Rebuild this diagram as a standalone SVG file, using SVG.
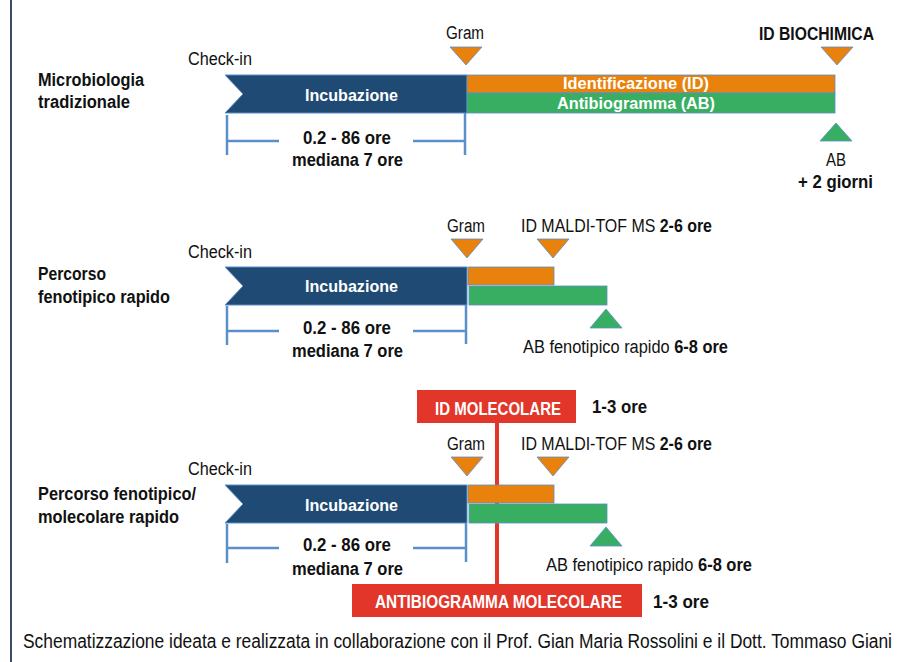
<svg xmlns="http://www.w3.org/2000/svg" width="902" height="662" viewBox="0 0 902 662">
<style>
text{font-family:"Liberation Sans Narrow","Liberation Sans",Arial,sans-serif;fill:#111}
.r{font-size:18px}
.b{font-size:17.5px;font-weight:bold}
tspan.bb{font-weight:bold}
.w{fill:#fff;font-weight:bold;font-size:17px}
.rw{fill:#fff;font-weight:bold;font-size:18.5px}
.inc{fill:#1F4A73;stroke:#5B8FC9;stroke-width:1}
.or{fill:#E8820C;stroke:#5B8FC9;stroke-width:0.8}
.gr{fill:#38AE62;stroke:#5B8FC9;stroke-width:0.8}
.red{fill:#E3362A}
.br{stroke:#5B8FC9;stroke-width:2.5;fill:none}
.cap{font-size:19.5px}
</style>
<rect width="902" height="662" fill="#fff"/>
<line x1="11" y1="0" x2="11" y2="662" stroke="#3D4B6B" stroke-width="2"/>

<g id="section1">
<text class="b" x="38" y="86" textLength="106" lengthAdjust="spacingAndGlyphs">Microbiologia</text>
<text class="b" x="38" y="108" textLength="92" lengthAdjust="spacingAndGlyphs">tradizionale</text>
<text class="r" x="188" y="65" textLength="64" lengthAdjust="spacingAndGlyphs">Check-in</text>
<g id="inc1"><polygon class="inc" points="225,75 467,75 467,113 225,113 243,94"/>
<text class="w" x="305" y="101" textLength="93" lengthAdjust="spacingAndGlyphs">Incubazione</text></g>
<g id="bars1">
<rect class="or" x="467" y="75" width="368" height="18"/>
<rect class="gr" x="467" y="93" width="368" height="20"/>
<text class="w" x="563" y="89" textLength="146" lengthAdjust="spacingAndGlyphs">Identificazione (ID)</text>
<text class="w" x="557" y="109" textLength="158" lengthAdjust="spacingAndGlyphs">Antibiogramma (AB)</text>
</g>
<g id="bracket1"><path class="br" d="M227,115 V155 M227,141 H279 M413,141 H465 M465,113 V155"/>
<text class="b" x="303" y="144" textLength="88" lengthAdjust="spacingAndGlyphs">0.2 - 86 ore</text>
<text class="b" x="292" y="166" textLength="111" lengthAdjust="spacingAndGlyphs">mediana 7 ore</text></g>
<g id="gram1"><text class="r" x="446" y="39" textLength="38" lengthAdjust="spacingAndGlyphs">Gram</text>
<polygon class="or" points="450,47 482,47 466,65"/></g>
<g id="idbio"><text class="b" x="759" y="40" textLength="115" lengthAdjust="spacingAndGlyphs">ID BIOCHIMICA</text>
<polygon class="or" points="821,47 853,47 837,65"/></g>
<g id="ab1"><polygon class="gr" points="820,141 852,141 836,123"/>
<text class="r" x="826" y="166" textLength="20" lengthAdjust="spacingAndGlyphs">AB</text>
<text class="b" x="798" y="188" textLength="75" lengthAdjust="spacingAndGlyphs">+ 2 giorni</text></g>
</g>

<g id="section2">
<text class="b" x="38" y="280" textLength="68" lengthAdjust="spacingAndGlyphs">Percorso</text>
<text class="b" x="38" y="303" textLength="132" lengthAdjust="spacingAndGlyphs">fenotipico rapido</text>
<text class="r" x="188" y="258" textLength="64" lengthAdjust="spacingAndGlyphs">Check-in</text>
<g id="inc2"><polygon class="inc" points="225,267 467,267 467,305 225,305 243,286"/>
<text class="w" x="305" y="292" textLength="93" lengthAdjust="spacingAndGlyphs">Incubazione</text></g>
<g id="bars2">
<rect class="or" x="468" y="267" width="86" height="18"/>
<rect class="gr" x="469" y="286" width="138" height="19"/>
</g>
<g id="bracket2"><path class="br" d="M227,306 V345 M227,331 H279 M413,331 H466 M466,305 V344"/>
<text class="b" x="303" y="334" textLength="88" lengthAdjust="spacingAndGlyphs">0.2 - 86 ore</text>
<text class="b" x="292" y="357" textLength="111" lengthAdjust="spacingAndGlyphs">mediana 7 ore</text></g>
<g id="gram2"><text class="r" x="447" y="232" textLength="38" lengthAdjust="spacingAndGlyphs">Gram</text>
<polygon class="or" points="451,239 483,239 467,258"/></g>
<g id="maldi2"><text class="r" x="521" y="232" textLength="191" lengthAdjust="spacingAndGlyphs">ID MALDI-TOF MS <tspan class="bb">2-6 ore</tspan></text>
<polygon class="or" points="537,239 569,239 553,258"/></g>
<g id="ab2"><polygon class="gr" points="590,328 622,328 606,309"/>
<text class="r" x="523" y="353" textLength="205" lengthAdjust="spacingAndGlyphs">AB fenotipico rapido <tspan class="bb">6-8 ore</tspan></text></g>
</g>

<g id="connectors">
<line x1="497" y1="423" x2="497" y2="585" stroke="#E3362A" stroke-width="4"/>
</g>

<g id="section3">
<text class="b" x="38" y="500" textLength="158" lengthAdjust="spacingAndGlyphs">Percorso fenotipico/</text>
<text class="b" x="38" y="523" textLength="141" lengthAdjust="spacingAndGlyphs">molecolare rapido</text>
<text class="r" x="188" y="475" textLength="64" lengthAdjust="spacingAndGlyphs">Check-in</text>
<g id="idmol"><rect class="red" x="417" y="390" width="159" height="33"/>
<text class="rw" x="435" y="415" textLength="126" lengthAdjust="spacingAndGlyphs">ID MOLECOLARE</text>
<text class="b" x="592" y="413" textLength="55" lengthAdjust="spacingAndGlyphs">1-3 ore</text></g>
<g id="inc3"><polygon class="inc" points="225,485 467,485 467,523 225,523 243,504"/>
<text class="w" x="305" y="511" textLength="93" lengthAdjust="spacingAndGlyphs">Incubazione</text></g>
<g id="bars3">
<rect class="or" x="468" y="485" width="86" height="18"/>
<rect class="gr" x="469" y="504" width="138" height="19"/>
</g>
<g id="bracket3"><path class="br" d="M227,524 V563 M227,548 H279 M413,548 H466 M466,523 V562"/>
<text class="b" x="303" y="551" textLength="88" lengthAdjust="spacingAndGlyphs">0.2 - 86 ore</text>
<text class="b" x="292" y="575" textLength="111" lengthAdjust="spacingAndGlyphs">mediana 7 ore</text></g>
<g id="gram3"><text class="r" x="447" y="450" textLength="38" lengthAdjust="spacingAndGlyphs">Gram</text>
<polygon class="or" points="451,457 483,457 467,476"/></g>
<g id="maldi3"><text class="r" x="521" y="450" textLength="191" lengthAdjust="spacingAndGlyphs">ID MALDI-TOF MS <tspan class="bb">2-6 ore</tspan></text>
<polygon class="or" points="537,457 569,457 553,476"/></g>
<g id="ab3"><polygon class="gr" points="590,546 622,546 606,527"/>
<text class="r" x="546" y="571" textLength="206" lengthAdjust="spacingAndGlyphs">AB fenotipico rapido <tspan class="bb">6-8 ore</tspan></text></g>
<g id="abmol"><rect class="red" x="352" y="584" width="290" height="33"/>
<text class="rw" x="375" y="608" textLength="247" lengthAdjust="spacingAndGlyphs">ANTIBIOGRAMMA MOLECOLARE</text>
<text class="b" x="653" y="608" textLength="56" lengthAdjust="spacingAndGlyphs">1-3 ore</text></g>
</g>

<text class="cap" x="23" y="648" textLength="869" lengthAdjust="spacingAndGlyphs">Schematizzazione ideata e realizzata in collaborazione con il Prof. Gian Maria Rossolini e il Dott. Tommaso Giani</text>
</svg>
